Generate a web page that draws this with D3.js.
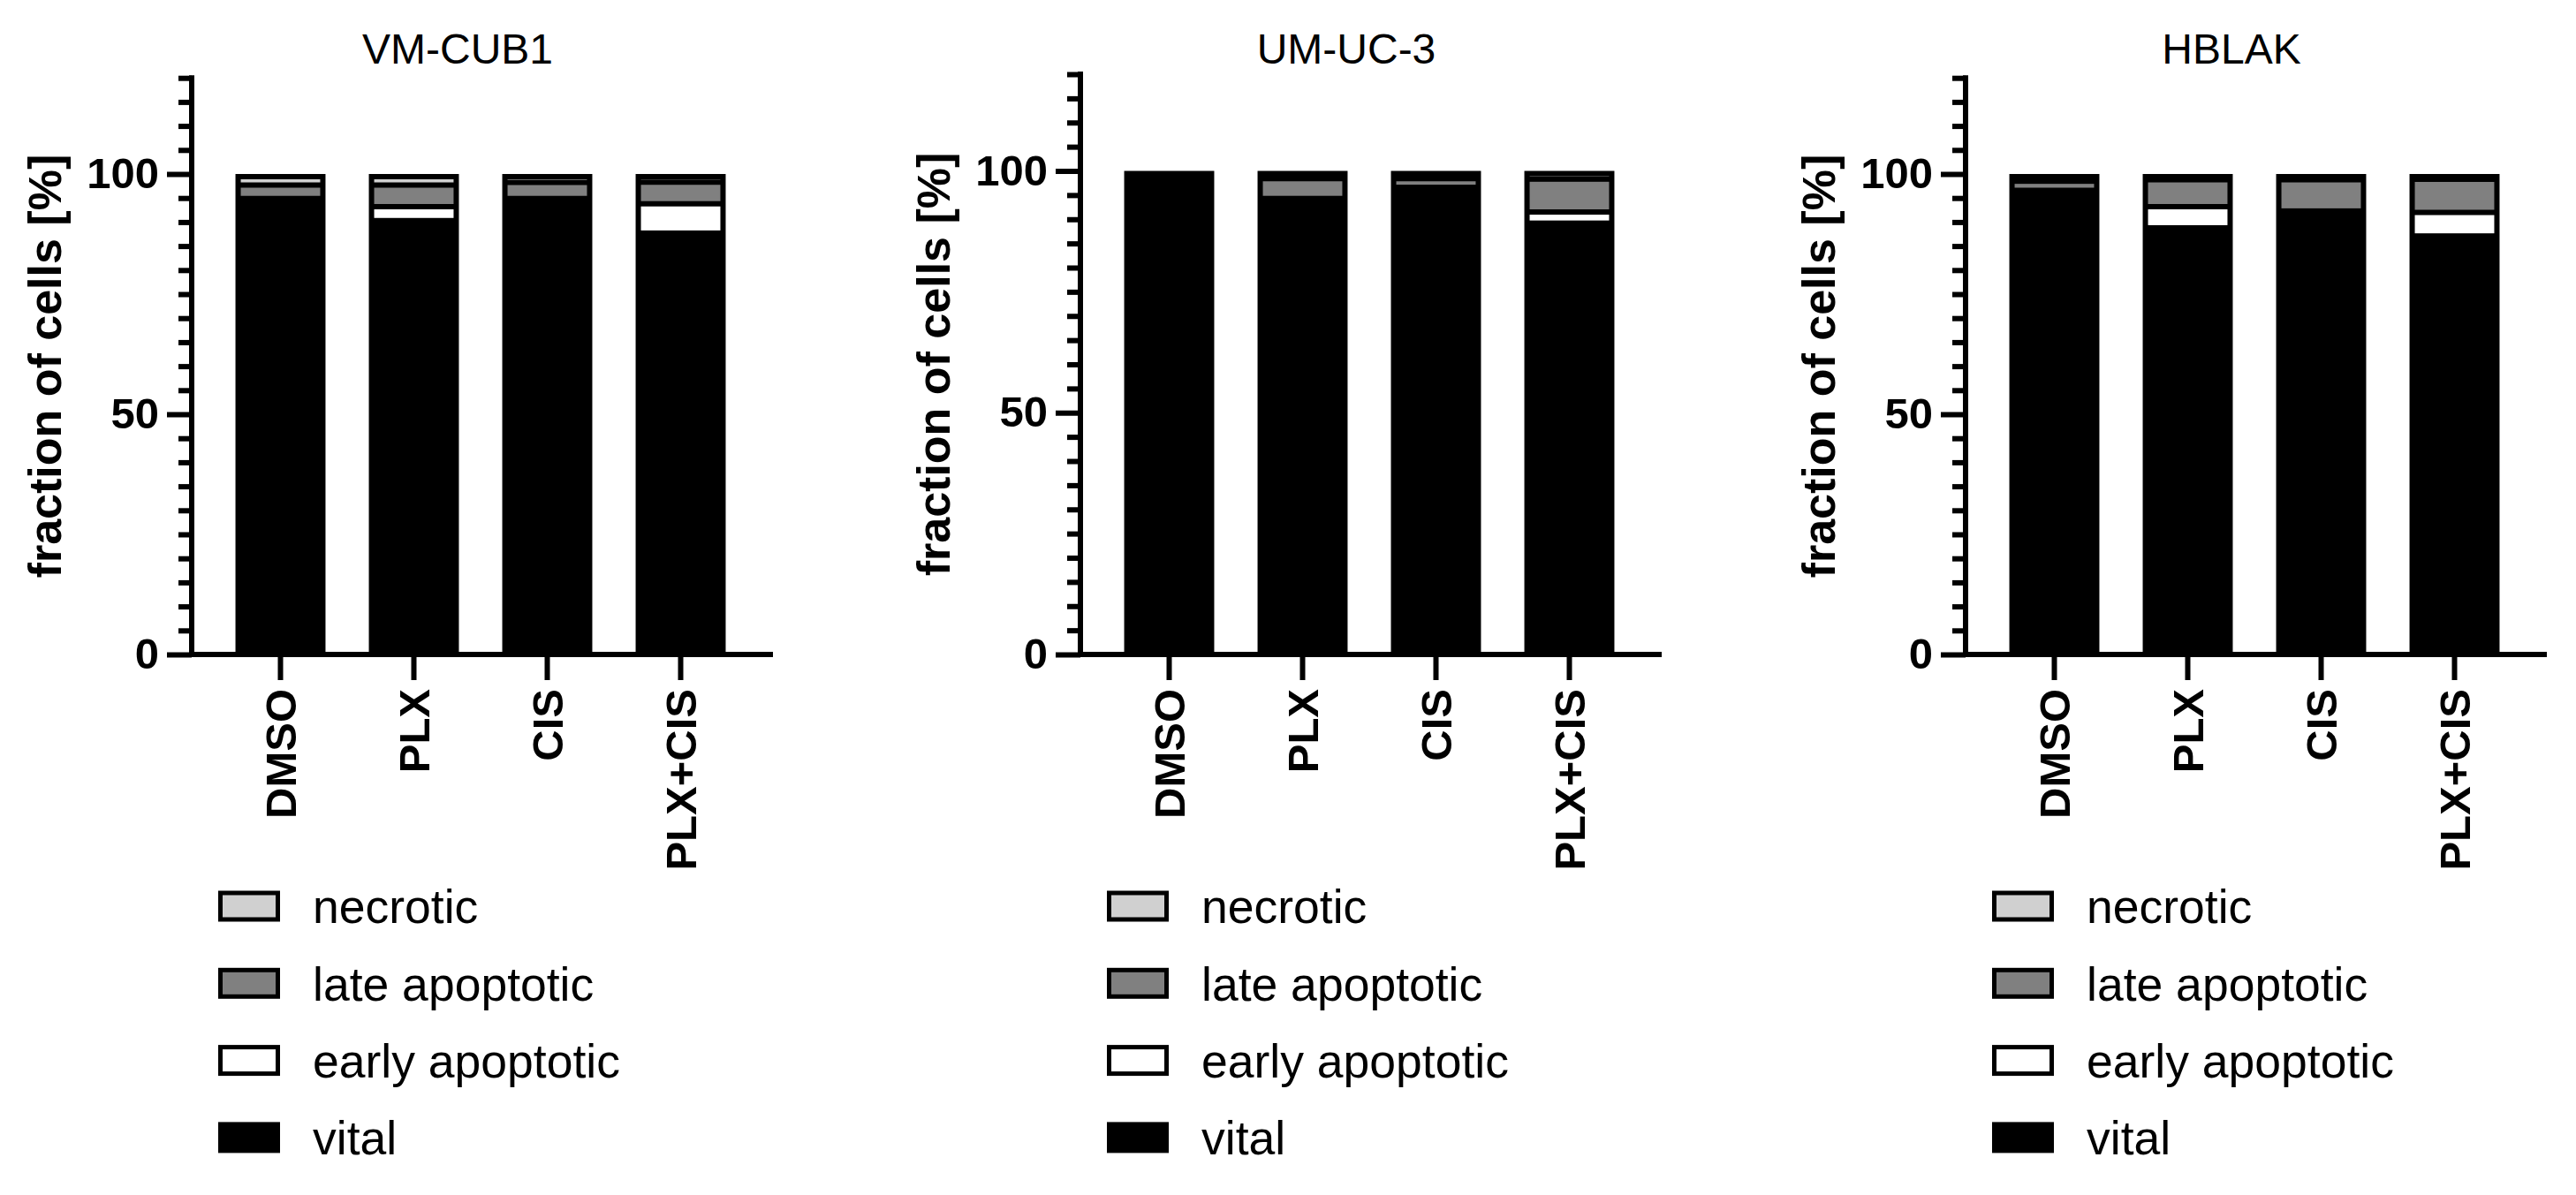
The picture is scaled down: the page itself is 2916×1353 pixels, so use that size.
<!DOCTYPE html>
<html>
<head>
<meta charset="utf-8">
<script src="https://cdn.jsdelivr.net/npm/d3@7"></script>
<style>
  html, body { margin: 0; padding: 0; background: #fff; }
  svg { display: block; }
  text { font-family: "Liberation Sans", Arial, sans-serif; fill: #000; }
</style>
</head>
<body>
<svg id="chart" width="2916" height="1353"></svg>
<script>
// ---- data ----
const panelTitles = ["VM-CUB1", "UM-UC-3", "HBLAK"];
const categories = ["DMSO", "PLX", "CIS", "PLX+CIS"];
const seriesKeys = ["vital", "early apoptotic", "late apoptotic", "necrotic"]; // stacked bottom -> top
const legendOrder = ["necrotic", "late apoptotic", "early apoptotic", "vital"];
// values in % per panel, per category
const vital          = [[94.4, 90.3, 94.5, 87.7], [99.0, 93.9, 96.3, 89.2], [96.3, 88.8, 91.8, 87.1]];
const earlyApoptotic = [[0.5, 2.9, 0.4, 6.1],     [0.2, 0.4, 0.3, 2.3],     [0.3, 4.4, 0.5, 4.9]];
const lateApoptotic  = [[2.8, 4.5, 3.35, 4.5],    [0.3, 4.1, 1.8, 6.8],     [1.9, 5.6, 6.5, 6.9]];
const necrotic       = [[2.3, 2.3, 1.75, 1.7],    [0.5, 1.6, 1.6, 1.7],     [1.5, 1.2, 1.2, 1.1]];
const yTickLabels = [0, 50, 100];
const yMinorTicks = [5,10,15,20,25,30,35,40,45,55,60,65,70,75,80,85,90,95,105,110,115,120];
const yLabel = "fraction of cells [%]";

// ---- styling / layout ----
const colors = {"vital": "#000000", "early apoptotic": "#ffffff", "late apoptotic": "#808080", "necrotic": "#d0d0d0"};
const axisXs = [217, 1223, 2225];
const yZero = 741;
const yHundred = [197, 193.5, 197];
const lw = 6;

const svg = d3.select("#chart");
svg.append("rect").attr("width", 2916).attr("height", 1353).attr("fill", "#fff");

panelTitles.forEach((title, p) => {
  const ax = axisXs[p];
  const rows = categories.map((c, i) => ({
    cat: c,
    "vital": vital[p][i],
    "early apoptotic": earlyApoptotic[p][i],
    "late apoptotic": lateApoptotic[p][i],
    "necrotic": necrotic[p][i]
  }));
  const stacked = d3.stack().keys(seriesKeys)(rows);

  const y = d3.scaleLinear().domain([0, 120])
    .range([yZero, yZero - 1.2 * (yZero - yHundred[p])]);
  const x = d3.scaleBand().domain(categories)
    .range([ax + 25, ax + 629]).paddingInner(0.325).paddingOuter(0.1625);

  const g = svg.append("g");

  // bars: black body, inset coloured fills
  const totals = rows.map(r => d3.sum(seriesKeys, k => r[k]));
  g.selectAll("rect.bar").data(categories).join("rect")
    .attr("class", "bar")
    .attr("x", c => x(c)).attr("width", x.bandwidth())
    .attr("y", (c, i) => y(totals[i]))
    .attr("height", (c, i) => y(0) - y(totals[i]))
    .attr("fill", "#000");

  stacked.forEach(layer => {
    if (layer.key === "vital") return;
    layer.forEach((d, i) => {
      const top = y(d[1]) + (d[1] >= totals[i] - 1e-9 ? lw : lw / 2);
      const bot = y(d[0]) - (d[0] <= 0 ? lw : lw / 2);
      if (bot - top > 0.2) {
        g.append("rect")
          .attr("x", x(categories[i]) + lw).attr("width", x.bandwidth() - 2 * lw)
          .attr("y", top).attr("height", bot - top)
          .attr("fill", colors[layer.key]);
      }
    });
  });

  // y axis: minor ticks
  const minor = g.append("g").attr("transform", `translate(${ax},0)`)
    .call(d3.axisLeft(y).tickValues(yMinorTicks).tickSize(15).tickSizeOuter(0).tickFormat(""));
  minor.select(".domain").remove();
  minor.selectAll("line").attr("stroke", "#000").attr("stroke-width", lw);

  // y axis: major ticks with labels
  const major = g.append("g").attr("transform", `translate(${ax},0)`)
    .call(d3.axisLeft(y).tickValues(yTickLabels).tickSize(28).tickSizeOuter(0).tickPadding(9));
  major.select(".domain").attr("stroke", "#000").attr("stroke-width", lw)
    .attr("d", `M0,${y(120) - lw / 2}V${y(0) + lw / 2}`);
  major.selectAll(".tick line").attr("stroke", "#000").attr("stroke-width", lw);
  major.selectAll(".tick text")
    .style("font-family", '"Liberation Sans", Arial, sans-serif')
    .attr("font-size", 49).attr("font-weight", "bold").attr("fill", "#000");

  // x axis
  g.append("line")
    .attr("x1", ax - lw / 2).attr("x2", ax + 658)
    .attr("y1", y(0)).attr("y2", y(0))
    .attr("stroke", "#000").attr("stroke-width", lw);
  const xa = g.append("g").attr("transform", `translate(0,${y(0)})`)
    .call(d3.axisBottom(x).tickSize(29).tickSizeOuter(0).tickPadding(0));
  xa.select(".domain").remove();
  xa.selectAll(".tick line").attr("stroke", "#000").attr("stroke-width", lw);
  xa.selectAll(".tick text")
    .style("font-family", '"Liberation Sans", Arial, sans-serif')
    .attr("font-size", 49).attr("font-weight", "bold").attr("fill", "#000")
    .attr("text-anchor", "end")
    .attr("transform", "translate(0,39) rotate(-90)")
    .attr("x", 0).attr("y", 0).attr("dy", "0.36em");

  // y label
  g.append("text")
    .attr("transform", `translate(${ax - 167},${(y(0) + y(120)) / 2}) rotate(-90)`)
    .attr("text-anchor", "middle").attr("dy", "0.36em")
    .attr("font-size", 52).attr("font-weight", "bold")
    .text(yLabel);

  // title
  g.append("text")
    .attr("x", ax + 301).attr("y", 72)
    .attr("text-anchor", "middle")
    .attr("font-size", 48)
    .text(title);

  // legend
  const lg = g.append("g");
  legendOrder.forEach((k, j) => {
    const cy = 1026 + j * 87.3;
    lg.append("rect")
      .attr("x", ax + 30 + 2.5).attr("y", cy - 17.5 + 2.5)
      .attr("width", 65).attr("height", 30)
      .attr("fill", colors[k]).attr("stroke", "#000").attr("stroke-width", 5);
    lg.append("text")
      .attr("x", ax + 137).attr("y", cy).attr("dy", "0.36em")
      .attr("font-size", 53.5)
      .text(k);
  });
});
</script>
</body>
</html>
